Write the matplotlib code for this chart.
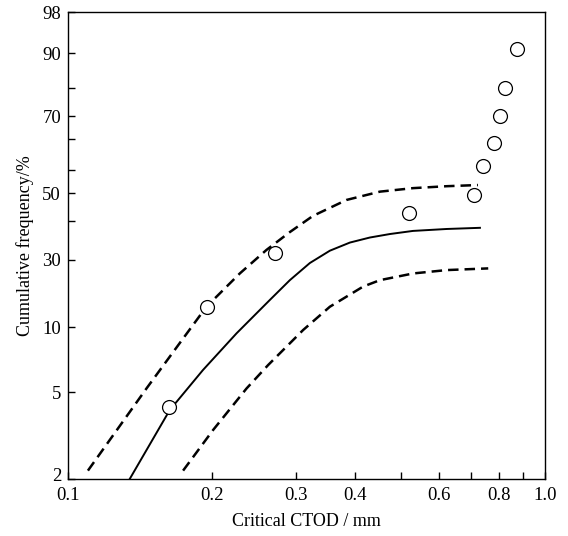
import matplotlib
matplotlib.use("Agg")
import matplotlib.pyplot as plt
import matplotlib.transforms as mtransforms
import numpy as np

plt.rcParams['font.family'] = ['Liberation Serif', 'DejaVu Serif']

# measured test results (critical CTOD in mm, cumulative frequency in %)
ctod = [0.163, 0.196, 0.271, 0.519, 0.711, 0.740, 0.783, 0.805, 0.824, 0.875]
freq = [4.5, 16.1, 31.7, 42.9, 49.4, 57.0, 63.0, 70.0, 80.0, 90.8]

# fitted curve (solid)
fit_x = [0.1347, 0.1634, 0.1919, 0.2256, 0.2649, 0.2918, 0.3214, 0.354,
         0.39, 0.4295, 0.4731, 0.5286, 0.6222, 0.7305]
fit_y = [2.0, 4.38, 6.71, 9.53, 18.1, 24.0, 29.1, 32.4, 34.5, 35.8, 36.7,
         37.5, 38.0, 38.3]

# upper bound (dashed)
up_x = [0.1101, 0.1463, 0.1715, 0.1951, 0.2292, 0.2607, 0.2918, 0.3262,
        0.3837, 0.4507, 0.5286, 0.6222, 0.7234]
up_y = [2.29, 5.32, 8.78, 16.1, 26.0, 32.6, 37.2, 41.9, 47.6, 50.4, 51.3,
        51.8, 52.1]

# lower bound (dashed)
lo_x = [0.1743, 0.2014, 0.2367, 0.2628, 0.3112, 0.354, 0.4157, 0.4507,
        0.5293, 0.6222, 0.7603]
lo_y = [2.29, 3.69, 5.28, 7.09, 9.79, 16.1, 22.1, 24.0, 26.0, 27.0, 27.5]

# probability axis of the original figure (value -> relative height)
scale_pct = [2, 5, 10, 30, 40, 50, 56, 64, 70, 80, 90, 98]
scale_pos = [0, 0.186, 0.325, 0.469, 0.552, 0.612, 0.662, 0.728, 0.777,
             0.837, 0.912, 1.0]
y_labels = [2, 5, 10, 30, 50, 70, 90, 98]
y_minor = [40, 56, 64, 80]

x_major = [0.1, 0.2, 0.3, 0.4, 0.6, 0.8, 1.0]
x_minor = [0.5, 0.7, 0.9]


def fwd(v):
    return np.interp(v, scale_pct, scale_pos)


def inv(t):
    return np.interp(t, scale_pos, scale_pct)


fig = plt.figure(figsize=(5.68, 5.36), dpi=100)
ax = fig.add_axes([0.1197, 0.1063, 0.8398, 0.8713])

ax.set_xscale('log')
ax.set_yscale('function', functions=(fwd, inv))
ax.set_xlim(0.1, 1.0)
ax.set_ylim(2, 98)

ax.plot(fit_x, fit_y, color='k', linewidth=1.4, linestyle='-')
ax.plot(up_x, up_y, color='k', linewidth=1.8, linestyle=(0, (4.2, 2.4)))
ax.plot(lo_x, lo_y, color='k', linewidth=1.8, linestyle=(0, (4.2, 2.4)))
ax.plot(ctod, freq, linestyle='none', marker='o', markersize=10,
        markerfacecolor='white', markeredgecolor='k', markeredgewidth=0.9)

ax.set_xticks(x_major)
ax.set_xticklabels(['0.1', '0.2', '0.3', '0.4', '0.6', '0.8', '1.0'])
ax.set_xticks(x_minor, minor=True)
ax.set_yticks(y_labels)
ax.set_yticklabels([str(v) for v in y_labels])
ax.set_yticks(y_minor, minor=True)

ax.tick_params(axis='both', which='both', direction='in', length=5,
               width=1.0, labelsize=13.5)
ax.tick_params(axis='x', which='minor', labelbottom=False)
ax.tick_params(axis='x', pad=6)
ax.tick_params(axis='y', pad=5)

# lift the "2" label a little so it clears the "0.1" label
lift = mtransforms.ScaledTranslation(0, 0.05, fig.dpi_scale_trans)
lab2 = ax.get_yticklabels()[0]
lab2.set_transform(lab2.get_transform() + lift)

for s in ax.spines.values():
    s.set_linewidth(1.0)

ax.set_xlabel('Critical CTOD / mm', fontsize=13, labelpad=6)
ax.set_ylabel('Cumulative frequency/%', fontsize=13, labelpad=6)

fig.savefig('out.png', dpi=100)
